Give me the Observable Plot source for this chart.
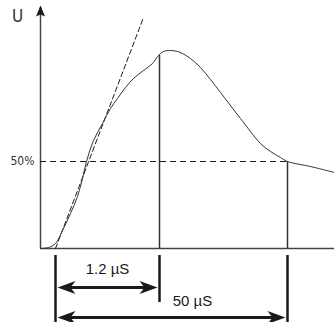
<!DOCTYPE html>
<html><head><meta charset="utf-8">
<script src="https://cdn.jsdelivr.net/npm/d3@7"></script>
<script src="https://cdn.jsdelivr.net/npm/@observablehq/plot@0.6"></script>
<style>body{margin:0;background:#fff} svg{overflow:visible}</style>
</head><body><div id="chart"></div>
<script>
// Impulse waveform, in picture units: t to the right of the origin, u upward.
const curveT = [0, 8, 15, 22, 30, 37, 42, 46, 53, 62, 70, 77, 85, 93, 103, 112, 118, 123, 130, 137, 142, 150, 160, 170, 180, 200, 220, 230, 240, 247, 270, 294];
const curveU = [0, 1, 5, 18, 35, 52, 70, 87, 108, 125, 140, 150, 161, 170, 178, 185, 193, 197, 198, 197, 195, 190, 181, 169, 156, 130, 105, 97, 91, 87, 82, 76];
const tangentT = [15, 103];
const tangentU = [0, 231];
const frontStart = 15;   // virtual origin
const peakT = 119;       // end of front (1.2 µS)
const peakU = 193;
const halfT = 247;       // time to half value (50 µS)
const halfU = 87;        // 50 % level
const axisMaxT = 294, axisMaxU = 243;
const labels = {front: "1.2 µS", tail: "50 µS", level: "50%", axis: "U"};

const curve = curveT.map((t, i) => ({t, u: curveU[i]}));
const tangent = tangentT.map((t, i) => ({t, u: tangentU[i]}));

const headRight = {draw(c) { c.moveTo(0,0); c.lineTo(-18,-6.5); c.lineTo(-13,0); c.lineTo(-18,6.5); c.closePath(); }};
const headLeft  = {draw(c) { c.moveTo(0,0); c.lineTo(18,-6.5); c.lineTo(13,0); c.lineTo(18,6.5); c.closePath(); }};
const headUp    = {draw(c) { c.moveTo(0,0); c.lineTo(-4.5,11); c.lineTo(0,9); c.lineTo(4.5,11); c.closePath(); }};

const narrow = "DejaVu Sans Condensed, Liberation Sans Narrow, Roboto Condensed, DejaVu Sans, sans-serif";
const sans = "Liberation Sans, Arial, sans-serif";
const dark = "#1a1a1a", grey = "#444";

const dimA = -39, dimB = -69;

const chart = Plot.plot({
  width: 334, height: 322,
  marginLeft: 40, marginRight: 0, marginTop: 0, marginBottom: 74,
  x: {domain: [0, 294], axis: null},
  y: {domain: [0, 248], axis: null},
  style: {background: "#fff", overflow: "visible"},
  marks: [
    // axes
    Plot.ruleX([0], {y1: 0, y2: axisMaxU - 2, stroke: grey, strokeWidth: 1.5}),
    Plot.ruleY([0], {x1: 0, x2: axisMaxT, stroke: grey, strokeWidth: 1.5}),
    Plot.dot([{t: 0, u: axisMaxU}], {x: "t", y: "u", r: 1, symbol: headUp, fill: dark, stroke: "none"}),
    // 50% dashed level
    Plot.ruleY([halfU], {x1: 0, x2: halfT, stroke: dark, strokeWidth: 1, strokeDasharray: "6,4"}),
    // tangent
    Plot.line(tangent, {x: "t", y: "u", stroke: dark, strokeWidth: 1, strokeDasharray: "5,3"}),
    // curve
    Plot.line(curve, {x: "t", y: "u", curve: "catmull-rom", stroke: "#333", strokeWidth: 1}),
    // vertical markers
    Plot.ruleX([peakT], {y1: 0, y2: peakU, stroke: "#333", strokeWidth: 1.5}),
    Plot.ruleX([halfT], {y1: 0, y2: halfU, stroke: "#333", strokeWidth: 1.5}),
    // dimension ticks
    Plot.ruleX([frontStart, halfT], {y1: -7, y2: -74, stroke: dark, strokeWidth: 2.5}),
    Plot.ruleX([peakT], {y1: -7, y2: -54, stroke: dark, strokeWidth: 2.5}),
    // dimension arrows
    Plot.ruleY([dimA], {x1: frontStart + 12, x2: peakT - 12, stroke: dark, strokeWidth: 3}),
    Plot.ruleY([dimB], {x1: frontStart + 12, x2: halfT - 12, stroke: dark, strokeWidth: 3}),
    Plot.dot([{t: frontStart + 2, u: dimA}, {t: frontStart + 2, u: dimB}], {x: "t", y: "u", r: 1, symbol: headLeft, fill: dark, stroke: "none"}),
    Plot.dot([{t: peakT - 2, u: dimA}, {t: halfT - 2, u: dimB}], {x: "t", y: "u", r: 1, symbol: headRight, fill: dark, stroke: "none"}),
    // labels
    Plot.text([labels.front], {x: (frontStart + peakT) / 2, y: -21, text: d => d, fontSize: 15, fontFamily: sans, fill: dark}),
    Plot.text([labels.tail], {x: 152, y: -53, text: d => d, fontSize: 15, fontFamily: sans, fill: dark}),
    Plot.text([labels.level], {x: -6, y: halfU, text: d => d, fontSize: 12, fontFamily: narrow, textAnchor: "end", fill: "#333"}),
    Plot.text([labels.axis], {x: -23, y: 232, text: d => d, fontSize: 17, fontFamily: narrow, fill: "#333"})
  ]
});
document.getElementById("chart").append(chart);
</script>
</body></html>
